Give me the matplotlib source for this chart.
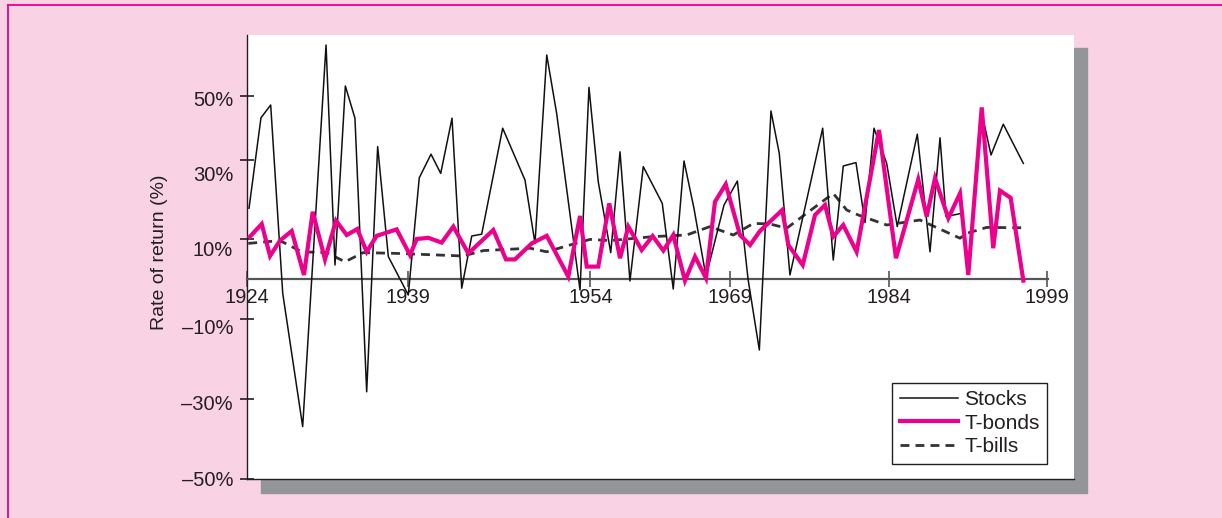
import matplotlib.pyplot as plt
from matplotlib.patches import Rectangle
from matplotlib.lines import Line2D

plt.rcParams['font.family'] = ['Liberation Sans', 'DejaVu Sans']

# The data (year position, rate of return in %)
stocks_year = [1924.19, 1925.31, 1926.22, 1927.35, 1929.22, 1931.41, 1932.25, 1933.22,
               1934.12, 1935.22, 1936.25, 1937.25, 1939.12, 1940.15, 1941.25, 1942.16,
               1943.22, 1944.13, 1945.07, 1946.0, 1947.97, 1950.06, 1951.0, 1952.1,
               1953.03, 1955.22, 1956.06, 1956.93, 1958.1, 1958.97, 1959.9, 1961.15,
               1962.93, 1963.96, 1964.97, 1965.9, 1967.03, 1968.72, 1969.97, 1970.97,
               1972.03, 1973.12, 1973.9, 1974.9, 1977.97, 1978.96, 1979.9, 1981.09,
               1981.94, 1982.78, 1983.97, 1984.96, 1986.84, 1988.03, 1988.97, 1989.53,
               1990.96, 1991.71, 1992.81, 1993.75, 1994.9, 1996.78]
stocks_ret = [17.7, 40.3, 43.5, -3.6, -36.9, 58.5, 3.5, 48.25,
              40.2, -28.2, 33.1, 5.6, -4.0, 25.3, 31.2, 26.4,
              40.2, -2.3, 10.75, 11.2, 37.7, 24.75, 8.9, 56.0,
              41.4, -2.75, 47.9, 24.3, 6.6, 31.8, -0.5, 28.1,
              18.9, -2.5, 29.5, 17.7, 0.6, 18.5, 24.5, 0.0,
              -17.75, 42.0, 31.4, 1.0, 37.7, 4.75, 28.25, 29.1,
              14.1, 37.7, 28.9, 13.1, 36.2, 6.8, 35.3, 15.6,
              16.4, 1.8, 42.4, 31.0, 38.7, 28.9]

bonds_year = [1924.28, 1925.38, 1926.16, 1927.09, 1928.19, 1929.34, 1930.16, 1931.31,
              1932.34, 1933.35, 1934.34, 1935.22, 1936.16, 1938.03, 1939.28, 1939.91,
              1941.0, 1942.25, 1943.34, 1944.75, 1947.09, 1948.28, 1949.12, 1950.69,
              1952.1, 1954.12, 1955.22, 1955.85, 1956.93, 1957.96, 1958.97, 1959.75,
              1961.0, 1962.03, 1963.03, 1963.96, 1965.06, 1966.0, 1967.03, 1967.87,
              1968.88, 1970.22, 1971.16, 1972.09, 1974.18, 1974.75, 1976.1, 1977.25,
              1978.19, 1978.96, 1979.9, 1981.15, 1983.25, 1984.84, 1986.93, 1987.72,
              1988.5, 1989.75, 1990.84, 1991.62, 1992.88, 1993.96, 1994.59, 1995.59,
              1996.78]
bonds_ret = [10.6, 13.75, 5.75, 9.6, 12.0, 1.0, 16.8, 4.9,
             14.6, 11.0, 12.5, 6.8, 10.8, 12.4, 6.0, 10.0,
             10.3, 9.1, 13.1, 6.4, 12.25, 4.9, 4.9, 8.9,
             10.8, 0.6, 15.75, 3.1, 3.1, 18.9, 5.2, 13.1,
             7.25, 10.75, 7.1, 11.0, -0.4, 5.6, 0.2, 19.3,
             23.7, 11.0, 8.5, 12.0, 17.25, 8.5, 3.5, 16.0,
             18.5, 10.6, 13.5, 6.8, 37.25, 5.2, 24.9, 15.6,
             25.2, 15.2, 21.4, 1.0, 42.9, 7.7, 22.1, 20.3,
             -0.4]

bills_year = [1924.12, 1927.09, 1929.13, 1931.47, 1933.19, 1934.9, 1938.03, 1944.28,
              1946.15, 1950.53, 1952.1, 1954.28, 1956.16, 1958.03, 1962.09, 1965.22,
              1967.4, 1969.59, 1971.47, 1973.03, 1974.6, 1978.96, 1980.22, 1981.31,
              1983.97, 1987.09, 1990.84, 1991.47, 1993.34, 1996.78]
bills_ret = [8.9, 9.6, 6.8, 6.6, 4.3, 6.6, 6.4, 5.75,
             7.1, 7.7, 6.8, 8.5, 9.9, 9.6, 10.6, 11.0,
             13.1, 11.0, 13.9, 13.75, 12.7, 21.4, 17.25, 16.0,
             13.5, 14.75, 10.2, 11.4, 12.9, 12.8]

# axis text (positions as they sit in the picture)
xtick_pos = [1924, 1939.1, 1956.2, 1969.3, 1984.2, 1999]
xtick_labels = ['1924', '1939', '1954', '1969', '1984', '1999']
ytick_marks = [45.75, 29.75, 10, -10, -30, -50]
ylabel_pos = [45.25, 26.5, 7.75, -11.75, -30.75, -49.75]
ylabel_text = ['50%', '30%', '10%', '\u201310%', '\u201330%', '\u201350%']

pink = '#f9d3e4'
magenta = '#ec008c'
gray = '#939598'
ink = '#231f20'

W, H = 1222, 518
fig = plt.figure(figsize=(W / 100, H / 100), dpi=100)
fig.patch.set_facecolor(pink)

# frame of the pink panel and the drop shadow
fig.add_artist(Line2D([8 / W, 1], [1 - 5 / H, 1 - 5 / H], color=magenta, lw=1.3))
fig.add_artist(Line2D([8 / W, 8 / W], [0, 1 - 5 / H], color=magenta, lw=1.3))
fig.add_artist(Rectangle((261 / W, 1 - 493 / H), (1087 - 261) / W, (493 - 48) / H,
                         transform=fig.transFigure, color=gray, zorder=0.5))

ax = fig.add_axes([247 / W, 1 - 479 / H, 827 / W, 444 / H], zorder=1)
ax.set_facecolor('white')

ax.plot(stocks_year, stocks_ret, color='#111111', lw=1.1, label='Stocks', zorder=3)
ax.plot(bonds_year, bonds_ret, color=magenta, lw=3.0, label='T-bonds', zorder=4,
        solid_joinstyle='miter')
ax.plot(bills_year, bills_ret, color='#333333', lw=2.0, dashes=(3.2, 2.2),
        label='T-bills', zorder=2)

ax.set_xlim(1924, 2001.53)
ax.set_ylim(-50, 61)

for s in ['top', 'right']:
    ax.spines[s].set_visible(False)
ax.spines['left'].set_color(ink)
ax.spines['left'].set_linewidth(1.0)
ax.spines['bottom'].set_position(('data', 0))
ax.spines['bottom'].set_bounds(1924, 1999.1)
ax.spines['bottom'].set_color('#555555')
ax.spines['bottom'].set_linewidth(1.6)
ax.axhline(-50, color=ink, lw=1.0, clip_on=False)

ax.set_xticks(xtick_pos, xtick_labels)
ax.tick_params(axis='x', direction='inout', length=11, width=1.2, color='#555555',
               pad=1, labelsize=14.5, labelcolor=ink)

ax.set_yticks(ylabel_pos, ylabel_text)
ax.set_yticks(ytick_marks, minor=True)
ax.tick_params(axis='y', which='major', length=0, pad=10, labelsize=14.5, labelcolor=ink)
ax.tick_params(axis='y', which='minor', direction='inout', length=10, width=1.2,
               color=ink)

fig.text(160 / W, 1 - 252 / H, 'Rate of return (%)', rotation=90, ha='center',
         va='center', fontsize=14, color=ink)

leg = ax.legend(loc='upper left', bbox_to_anchor=(0.7803, 0.2169), borderaxespad=0,
                frameon=True, fancybox=False, edgecolor=ink, framealpha=1,
                fontsize=15, handlelength=2.8, handletextpad=0.3,
                labelspacing=0.22, borderpad=0.36)
leg.get_frame().set_linewidth(1.0)
for t in leg.get_texts():
    t.set_color(ink)

fig.savefig('out.png', dpi=100, facecolor=pink)
